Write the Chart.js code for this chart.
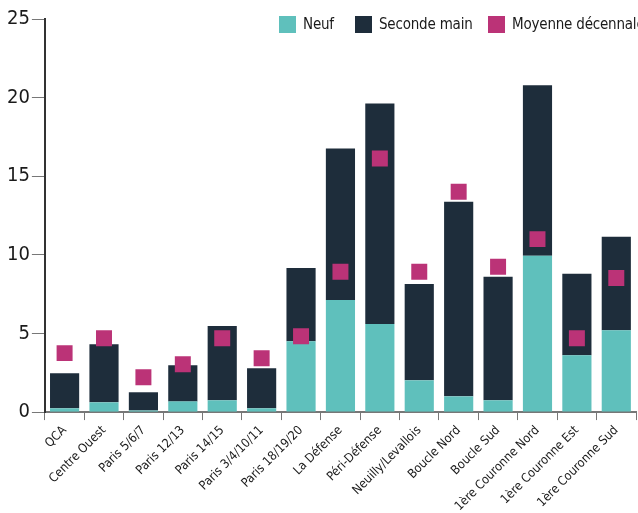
<!DOCTYPE html>
<html>
<head>
<meta charset="utf-8">
<script src="https://cdn.jsdelivr.net/npm/chart.js@4"></script>
<style>
  body { margin: 0; background: #fff; }
  #wrap { position: relative; width: 638px; height: 513px; overflow: hidden; }
  #legend { position: absolute; top: 0; left: 0; width: 638px; height: 40px; letter-spacing: -0.2px;
            font-family: 'DejaVu Sans Condensed', 'DejaVu Sans', sans-serif; font-size: 15px; color: #1a1a1a; }
  .item { position: absolute; top: 16px; white-space: nowrap; line-height: 17px; }
  .box { display: inline-block; width: 17px; height: 17px; vertical-align: top; margin-right: 7px; }
</style>
</head>
<body>
<div id="wrap">
<canvas id="chart" width="638" height="513"></canvas>
<div id="legend"></div>
</div>
<script>
const FONT = "'DejaVu Sans Condensed', 'DejaVu Sans', sans-serif";

const categories = ["QCA", "Centre Ouest", "Paris 5/6/7", "Paris 12/13", "Paris 14/15", "Paris 3/4/10/11",
    "Paris 18/19/20", "La Défense", "Péri-Défense", "Neuilly/Levallois", "Boucle Nord", "Boucle Sud",
    "1ère Couronne Nord", "1ère Couronne Est", "1ère Couronne Sud"];

const neuf = [0.24, 0.62, 0.1, 0.68, 0.75, 0.24, 4.51, 7.13, 5.6, 2.02, 1.0, 0.75, 9.94, 3.62, 5.2];
const total = [2.47, 4.32, 1.26, 2.98, 5.47, 2.79, 9.17, 16.76, 19.63, 8.15, 13.38, 8.6, 20.78, 8.79, 11.15];
const secondeMain = total.map((t, i) => +(t - neuf[i]).toFixed(2));
const moyenne = [3.75, 4.7, 2.21, 3.04, 4.7, 3.43, 4.83, 8.92, 16.13, 8.92, 14.02, 9.24, 11.0, 4.7, 8.53];

const yTicks = [0, 5, 10, 15, 20, 25];

// legend spots (left edge of each box), as in the picture
const legendX = [279, 355, 488];

const ctx = document.getElementById("chart").getContext("2d");

let chart = new Chart(ctx, {
    type: "bar",
    data: {
        labels: categories,
        datasets: [
            {
                label: "Neuf",
                data: neuf,
                backgroundColor: "#5fc0bc",
                stack: "s",
                order: 2,
                barPercentage: 0.74,
                categoryPercentage: 1
            }, {
                label: "Seconde main",
                data: secondeMain,
                backgroundColor: "#1e2d3b",
                stack: "s",
                order: 2,
                barPercentage: 0.74,
                categoryPercentage: 1
            }, {
                type: "line",
                label: "Moyenne décennale",
                data: moyenne,
                stack: "avg",
                showLine: false,
                backgroundColor: "#bb3377",
                borderColor: "#bb3377",
                borderWidth: 0,
                pointStyle: "rect",
                pointRadius: 11.3,
                pointHoverRadius: 11.3,
                order: 0
            }
        ]
    },
    options: {
        responsive: false,
        animation: false,
        layout: {autoPadding: false, padding: {top: 19, right: 2, left: 5, bottom: -4}},
        plugins: {
            tooltip: {enabled: false},
            legend: {display: false}
        },
        scales: {
            x: {
                stacked: true,
                afterFit: s => { s.paddingLeft = 0; s.paddingRight = 0; },
                grid: {display: true, drawOnChartArea: false, drawTicks: true, tickLength: 8, color: "#777"},
                border: {color: "#777", width: 2},
                ticks: {
                    minRotation: 45,
                    maxRotation: 45,
                    autoSkip: false,
                    color: "#1a1a1a",
                    padding: 3,
                    font: {family: FONT, size: 12.5}
                }
            },
            y: {
                stacked: true,
                min: 0,
                max: 25,
                afterBuildTicks: axis => { axis.ticks = yTicks.map(v => ({value: v})); },
                grid: {display: true, drawOnChartArea: false, drawTicks: true, tickLength: 13, color: "#777"},
                border: {color: "#333", width: 2},
                ticks: {
                    color: "#1a1a1a",
                    padding: 2,
                    font: {family: FONT, size: 20}
                }
            }
        }
    }
});

// legend built from the chart's own datasets
const legend = document.getElementById("legend");
chart.data.datasets.forEach((ds, i) => {
    const item = document.createElement("div");
    item.className = "item";
    item.style.left = legendX[i] + "px";
    item.innerHTML = `<span class="box" style="background:${ds.backgroundColor}"></span>${ds.label}`;
    legend.appendChild(item);
});
</script>
</body>
</html>
